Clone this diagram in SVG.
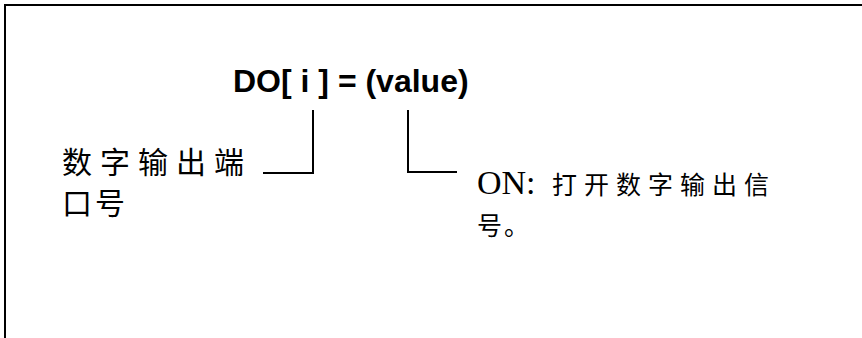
<svg xmlns="http://www.w3.org/2000/svg" width="862" height="338" viewBox="0 0 862 338">
<style>
.frame{fill:none;stroke:#000;stroke-width:2}
.conn{fill:none;stroke:#000;stroke-width:2}
.title{font-family:"Liberation Sans",Arial,sans-serif;font-weight:bold;font-size:32px;fill:#000}
.cjk{font-family:"Liberation Serif","Noto Sans CJK SC",serif;fill:#000}
</style>
<rect width="862" height="338" fill="#fff"/>
<path class="frame" d="M5,338 V5 H862"/>
<g id="title"><text class="title" x="233" y="92">DO[ i ] = (value)</text></g>
<g id="connectors">
<path class="conn" d="M313,110 V173 H263"/>
<path class="conn" d="M408,110 V172 H457"/>
</g>
<g id="label-port">
<text class="cjk" font-size="30" x="62 100 138 176 214" y="173">数字输出端</text>
<text class="cjk" font-size="30" x="62 95" y="214">口号</text>
</g>
<g id="label-on">
<text class="cjk" font-size="34" y="194"><tspan x="477">ON:</tspan><tspan font-size="25" x="552 584 616 648 680 712 744">打开数字输出信</tspan></text>
<text class="cjk" font-size="25" x="477 504" y="235">号。</text>
</g>
</svg>
